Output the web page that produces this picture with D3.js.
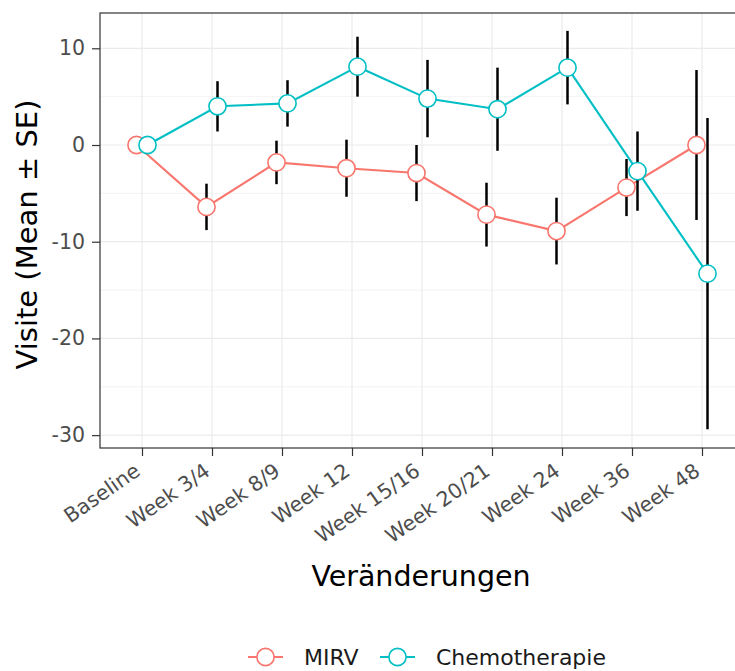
<!DOCTYPE html>
<html>
<head>
<meta charset="utf-8">
<script src="https://cdn.jsdelivr.net/npm/d3@7"></script>
<style>
  body { margin: 0; background: #fff; }
  text { font-family: "DejaVu Sans", sans-serif; }
</style>
</head>
<body>
<script>
// data
const visits = ["Baseline", "Week 3/4", "Week 8/9", "Week 12", "Week 15/16",
                "Week 20/21", "Week 24", "Week 36", "Week 48"];
const groups = ["MIRV", "Chemotherapie"];
const mirvMean = [0, -6.4, -1.8, -2.4, -2.9, -7.2, -8.9, -4.4, 0];
const mirvSE   = [0, 2.4, 2.25, 2.95, 2.9, 3.3, 3.45, 2.95, 7.75];
const chemoMean = [0, 4.0, 4.3, 8.1, 4.8, 3.7, 8.0, -2.7, -13.3];
const chemoSE   = [0, 2.6, 2.4, 3.1, 4.0, 4.3, 3.8, 4.1, 16.1];
const yTicks = [10, 0, -10, -20, -30];
const yMinor = [5, -5, -15, -25];

const colors = {"MIRV": "#F8766D", "Chemotherapie": "#00BFC4"};

const w = 735, h = 671;
const panel = {left: 100, top: 13, right: 744, bottom: 448};

const svg = d3.select("body").append("svg")
    .attr("width", w)
    .attr("height", h);

let x = d3.scalePoint()
    .domain(visits)
    .range([panel.left + 42, panel.right - 42]);

let y = d3.scaleLinear()
    .domain([-31.33, 13.65])
    .range([panel.bottom, panel.top]);

const dodge = {"MIRV": -5.5, "Chemotherapie": 5.5};

const series = groups.map(g => ({
    name: g,
    values: visits.map((v, i) => ({
        visit: v,
        mean: g == "MIRV" ? mirvMean[i] : chemoMean[i],
        se: g == "MIRV" ? mirvSE[i] : chemoSE[i]
    }))
}));

// grid
const grid = svg.append("g");
grid.selectAll(".minor").data(yMinor).enter().append("line")
    .attr("x1", panel.left).attr("x2", panel.right)
    .attr("y1", d => y(d)).attr("y2", d => y(d))
    .attr("stroke", "#EBEBEB").attr("stroke-width", 0.6);
grid.selectAll(".major").data(yTicks).enter().append("line")
    .attr("x1", panel.left).attr("x2", panel.right)
    .attr("y1", d => y(d)).attr("y2", d => y(d))
    .attr("stroke", "#EBEBEB").attr("stroke-width", 1.2);
grid.selectAll(".vmajor").data(visits).enter().append("line")
    .attr("x1", d => x(d)).attr("x2", d => x(d))
    .attr("y1", panel.top).attr("y2", panel.bottom)
    .attr("stroke", "#EBEBEB").attr("stroke-width", 1.2);

// lines
let line = d3.line()
    .x(d => x(d.visit))
    .y(d => y(d.mean));

series.forEach(s => {
    svg.append("path")
        .datum(s.values)
        .attr("fill", "none")
        .attr("stroke", colors[s.name])
        .attr("stroke-width", 2.1)
        .attr("transform", `translate(${dodge[s.name]},0)`)
        .attr("d", line);
});

// error bars
series.forEach(s => {
    svg.append("g").selectAll("line")
        .data(s.values.filter(d => d.se > 0))
        .enter().append("line")
        .attr("x1", d => x(d.visit) + dodge[s.name])
        .attr("x2", d => x(d.visit) + dodge[s.name])
        .attr("y1", d => y(d.mean + d.se))
        .attr("y2", d => y(d.mean - d.se))
        .attr("stroke", "black")
        .attr("stroke-width", 2.5);
});

// points
series.forEach(s => {
    svg.append("g").selectAll("circle")
        .data(s.values)
        .enter().append("circle")
        .attr("cx", d => x(d.visit) + dodge[s.name])
        .attr("cy", d => y(d.mean))
        .attr("r", 8.6)
        .attr("fill", "white")
        .attr("stroke", colors[s.name])
        .attr("stroke-width", 1.6);
});

// panel border
svg.append("rect")
    .attr("x", panel.left).attr("y", panel.top)
    .attr("width", panel.right - panel.left)
    .attr("height", panel.bottom - panel.top)
    .attr("fill", "none")
    .attr("stroke", "#333333")
    .attr("stroke-width", 1.2);

// axes
let yAxis = d3.axisLeft(y).tickValues(yTicks).tickSize(8).tickPadding(7)
    .tickFormat(d => String(d));
let gy = svg.append("g")
    .attr("transform", `translate(${panel.left},0)`)
    .call(yAxis);
gy.select(".domain").remove();
gy.selectAll(".tick line").attr("stroke", "#333333").attr("stroke-width", 1.2);
gy.selectAll(".tick text")
    .attr("fill", "#4D4D4D")
    .style("font-size", "20.5px")
    .style("font-family", "DejaVu Sans");

let xAxis = d3.axisBottom(x).tickSize(8);
let gx = svg.append("g")
    .attr("transform", `translate(0,${panel.bottom})`)
    .call(xAxis);
gx.select(".domain").remove();
gx.selectAll(".tick line").attr("stroke", "#333333").attr("stroke-width", 1.2);
gx.selectAll(".tick text")
    .attr("fill", "#4D4D4D")
    .style("font-size", "20.5px")
    .style("font-family", "DejaVu Sans")
    .attr("text-anchor", "end")
    .attr("dy", null)
    .attr("y", null)
    .attr("transform", "translate(-1,26) rotate(-35)");

// axis titles
svg.append("text")
    .attr("x", 421)
    .attr("y", 586)
    .attr("text-anchor", "middle")
    .style("font-size", "28.5px")
    .attr("fill", "black")
    .text("Veränderungen");

svg.append("text")
    .attr("transform", `translate(37,${(panel.top + panel.bottom) / 2 + 4}) rotate(-90)`)
    .attr("text-anchor", "middle")
    .style("font-size", "29px")
    .attr("fill", "black")
    .text("Visite (Mean ± SE)");

// legend
const legendX = [248, 380];
const legend = svg.append("g");
groups.forEach((g, i) => {
    let lg = legend.append("g").attr("transform", `translate(${legendX[i]},657)`);
    lg.append("line")
        .attr("x1", 0).attr("x2", 35)
        .attr("stroke", colors[g]).attr("stroke-width", 2.1);
    lg.append("circle")
        .attr("cx", 17.5).attr("cy", 0).attr("r", 8.6)
        .attr("fill", "white")
        .attr("stroke", colors[g]).attr("stroke-width", 1.6);
    lg.append("text")
        .attr("x", 56).attr("y", 8)
        .style("font-size", "22px")
        .attr("fill", "#1a1a1a")
        .text(g);
});
</script>
</body>
</html>
